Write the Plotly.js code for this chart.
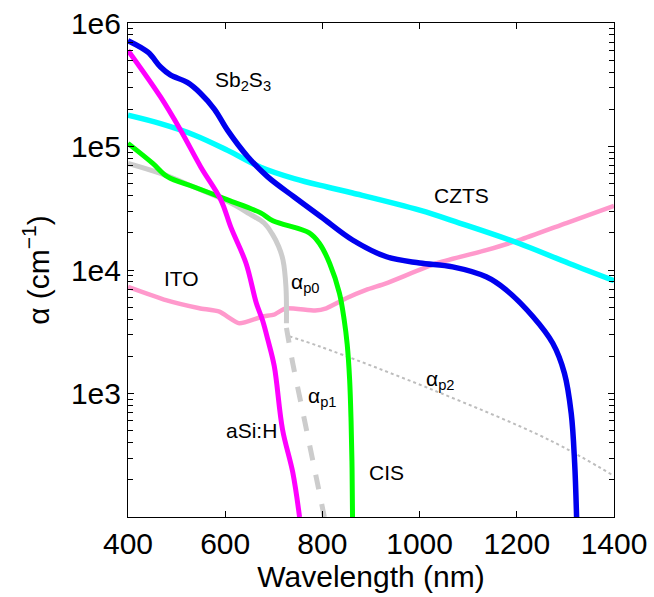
<!DOCTYPE html>
<html>
<head>
<meta charset="utf-8">
<script src="https://cdn.plot.ly/plotly-3.0.1.min.js"></script>
<style>html,body{margin:0;padding:0;background:#fff;}#chart{width:654px;height:597px;}</style>
</head>
<body>
<div id="chart"></div>
<script>
// Wavelength (nm) and absorption coefficient alpha (cm^-1)
const sbX = [400, 441, 467, 487, 522, 549, 578, 605, 646, 687, 742, 797, 862, 932, 1000, 1068, 1137, 1178, 1233, 1274, 1298, 1312, 1319, 1323];
const sbY = [7.2e5, 5.8e5, 4.4e5, 3.8e5, 3.3e5, 2.7e5, 2.0e5, 1.35e5, 8.3e4, 5.7e4, 3.9e4, 2.7e4, 1.75e4, 1.28e4, 1.14e4, 1.06e4, 8.8e3, 6.9e3, 4.2e3, 2.55e3, 1.46e3, 690, 275, 100];

const cztsX = [400, 467, 536, 605, 673, 742, 810, 862, 1000, 1082, 1205, 1308, 1400];
const cztsY = [1.79e5, 1.53e5, 1.24e5, 9.3e4, 6.8e4, 5.5e4, 4.7e4, 4.2e4, 3.05e4, 2.4e4, 1.64e4, 1.13e4, 8.2e3];

const cisX = [400, 451, 481, 536, 605, 673, 698, 773, 794, 815, 835, 845, 851, 856, 859, 861, 862];
const cisY = [1.06e5, 7.3e4, 5.7e4, 4.7e4, 3.7e4, 2.9e4, 2.5e4, 2.0e4, 1.64e4, 1.13e4, 6.5e3, 3.9e3, 2.5e3, 1.3e3, 600, 250, 100];

const asiX = [400, 467, 508, 550, 591, 612, 643, 664, 677, 688, 701, 718, 739, 753];
const asiY = [6.0e5, 2.52e5, 1.36e5, 6.8e4, 3.7e4, 2.2e4, 1.13e4, 5.4e3, 3.9e3, 2.7e3, 1.66e3, 510, 230, 100];

const p0X = [400, 467, 536, 605, 650, 680, 697, 710, 719, 725, 726];
const p0Y = [7.3e4, 6.05e4, 4.7e4, 3.6e4, 2.85e4, 2.4e4, 1.95e4, 1.55e4, 1.2e4, 7.3e3, 3.7e3];

const p1X = [726, 739, 760, 780, 804];
const p1Y = [3.4e3, 1.76e3, 700, 290, 100];

const p2X = [732, 795, 1027, 1267, 1400];
const p2Y = [2.9e3, 2.4e3, 1.07e3, 420, 215];

const itoX = [400, 478, 547, 588, 629, 677, 700, 725, 785, 808, 849, 890, 931, 1034, 1137, 1206, 1302, 1400];
const itoY = [7.3e3, 5.7e3, 4.9e3, 4.6e3, 3.7e3, 4.2e3, 4.35e3, 4.9e3, 4.7e3, 4.9e3, 5.9e3, 6.9e3, 7.8e3, 1.13e4, 1.45e4, 1.75e4, 2.4e4, 3.3e4];

const xTicks = [400, 600, 800, 1000, 1200, 1400];
const yMajor = [1e3, 1e4, 1e5, 1e6];
const yMajorText = ['1e3', '1e4', '1e5', '1e6'];

// minor tick positions of the log axis (2..9 times each decade)
const yMinor = [];
for (let d = 2; d <= 5; d++) {
  for (let m = 2; m <= 9; m++) yMinor.push(m * Math.pow(10, d));
}

const FONT = 'Liberation Sans, Arial, Helvetica, sans-serif';

function tr(x, y, color, width, dash, smooth) {
  return {x: x, y: y, type: 'scatter', mode: 'lines',
    line: {color: color, width: width, dash: dash || 'solid', shape: 'spline', smoothing: smooth || 1.0},
    hoverinfo: 'skip', showlegend: false};
}

const data = [
  tr(p2X, p2Y, '#bdbdbd', 2, 'dot'),
  tr(itoX, itoY, '#ff99cc', 4.5, 'solid', 0.5),
  tr(cztsX, cztsY, '#00ffff', 5.5),
  tr(p0X, p0Y, '#cccccc', 5),
  tr(p1X, p1Y, '#cccccc', 5, 'dash'),
  tr(cisX, cisY, '#00ff00', 5),
  tr(asiX, asiY, '#ff00ff', 5),
  tr(sbX, sbY, '#0000ee', 5.5)
];

function ann(text, x, y) {
  return {text: text, x: x, y: Math.log10(y), xref: 'x', yref: 'y', showarrow: false,
    font: {family: FONT, size: 21, color: '#000'}};
}

const layout = {
  width: 654, height: 597,
  margin: {l: 128, r: 40, t: 23, b: 80},
  paper_bgcolor: '#fff', plot_bgcolor: '#fff',
  font: {family: FONT, color: '#000'},
  xaxis: {
    range: [400, 1400], tickvals: xTicks, ticktext: xTicks.map(String),
    ticks: 'inside', ticklen: 6, tickwidth: 1, tickcolor: '#000',
    showline: true, linecolor: '#000', linewidth: 1, mirror: 'ticks',
    showgrid: false, zeroline: false,
    tickfont: {family: FONT, size: 30},
    title: {text: 'Wavelength (nm)', font: {family: FONT, size: 30}, standoff: 2}
  },
  yaxis: {
    type: 'log', range: [2, 6], tickvals: yMajor, ticktext: yMajorText,
    ticks: 'inside', ticklen: 6, tickwidth: 1, tickcolor: '#000',
    minor: {tickvals: yMinor, ticks: 'inside', ticklen: 5, tickwidth: 1, tickcolor: '#000', showgrid: false},
    showline: true, linecolor: '#000', linewidth: 1, mirror: 'ticks',
    showgrid: false, zeroline: false,
    tickfont: {family: FONT, size: 30},
    title: {text: 'α (cm<sup>−1</sup>)', font: {family: FONT, size: 30}, standoff: 12}
  },
  annotations: [
    ann('Sb<sub>2</sub>S<sub>3</sub>', 636, 3.4e5),
    ann('CZTS', 1086, 4.0e4),
    ann('ITO', 510, 8.6e3),
    ann('α<sub>p0</sub>', 765, 7.8e3),
    ann('α<sub>p1</sub>', 800, 940),
    ann('α<sub>p2</sub>', 1042, 1.29e3),
    ann('aSi:H', 655, 500),
    ann('CIS', 931, 230)
  ]
};

Plotly.newPlot('chart', data, layout, {displayModeBar: false, staticPlot: true});
</script>
</body>
</html>
